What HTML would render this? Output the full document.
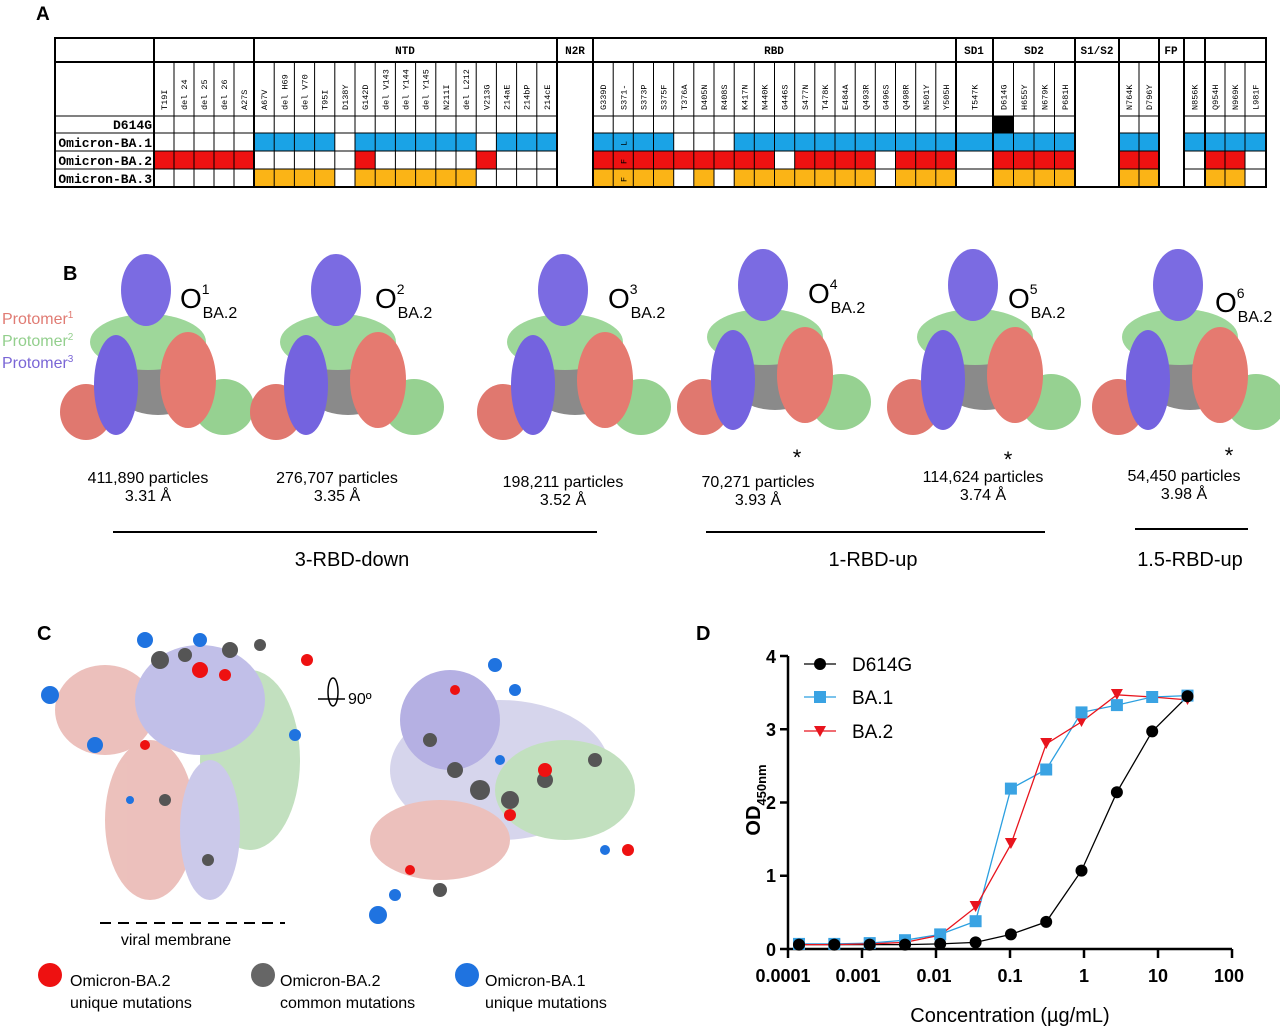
<!DOCTYPE html>
<html><head><meta charset="utf-8"><style>
body{margin:0;background:#fff}
svg{display:block}
.m{font-family:"Liberation Mono",monospace}
.s{font-family:"Liberation Sans",sans-serif}
</style></head><body>
<svg width="1280" height="1028" viewBox="0 0 1280 1028" xmlns="http://www.w3.org/2000/svg">
<rect width="1280" height="1028" fill="#fff"/>
<text x="36" y="20" class="s" font-size="19" font-weight="bold">A</text>
<g>
<rect x="993" y="116" width="20.5" height="17" fill="#000"/>
<g fill="#1aa3e6">
<rect x="254" y="133" width="80.8" height="18"/><rect x="355" y="133" width="121.2" height="18"/><rect x="496.4" y="133" width="60.6" height="18"/>
<rect x="593" y="133" width="80.7" height="18"/><rect x="734.2" y="133" width="221.8" height="18"/><rect x="956" y="133" width="119" height="18"/>
<rect x="1119" y="133" width="40" height="18"/><rect x="1184" y="133" width="82" height="18"/>
</g>
<g fill="#ee1111">
<rect x="154" y="151" width="100" height="18"/><rect x="355" y="151" width="20.2" height="18"/><rect x="476.2" y="151" width="20.2" height="18"/>
<rect x="593" y="151" width="181.5" height="18"/><rect x="794.7" y="151" width="80.6" height="18"/><rect x="895.5" y="151" width="60.5" height="18"/>
<rect x="993" y="151" width="82" height="18"/><rect x="1119" y="151" width="40" height="18"/><rect x="1205" y="151" width="40" height="18"/>
</g>
<g fill="#fbb416">
<rect x="254" y="169" width="80.8" height="18"/><rect x="355" y="169" width="121.2" height="18"/>
<rect x="593" y="169" width="80.7" height="18"/><rect x="693.8" y="169" width="20.2" height="18"/><rect x="734.2" y="169" width="141.1" height="18"/><rect x="895.5" y="169" width="60.5" height="18"/>
<rect x="993" y="169" width="82" height="18"/><rect x="1119" y="169" width="40" height="18"/><rect x="1205" y="169" width="40" height="18"/>
</g>
</g>
<g stroke="#000" stroke-width="1" fill="none">
<path d="M55 116H557M593 116H1075M1119 116H1159M1184 116H1266
M55 133H557M593 133H1075M1119 133H1159M1184 133H1266
M55 151H557M593 151H1075M1119 151H1159M1184 151H1266
M55 169H557M593 169H1075M1119 169H1159M1184 169H1266"/>
<path d="M174 62V187M194 62V187M214 62V187M234 62V187
M274.2 62V187M294.4 62V187M314.6 62V187M334.8 62V187M355 62V187M375.2 62V187M395.4 62V187M415.6 62V187M435.8 62V187M456 62V187M476.2 62V187M496.4 62V187M516.6 62V187M536.8 62V187
M613.2 62V187M633.3 62V187M653.5 62V187M673.7 62V187M693.8 62V187M714 62V187M734.2 62V187M754.3 62V187M774.5 62V187M794.7 62V187M814.8 62V187M835 62V187M855.2 62V187M875.3 62V187M895.5 62V187M915.7 62V187M935.8 62V187
M1013.5 62V187M1034 62V187M1054.5 62V187M1139 62V187M1225 62V187M1245 62V187"/>
</g>
<g stroke="#000" stroke-width="2" fill="none">
<rect x="55" y="38" width="1211" height="149"/>
<path d="M55 62H1266M154 38V187M254 38V187M557 38V187M593 38V187M956 38V187M993 38V187M1075 38V187M1119 38V187M1159 38V187M1184 38V187M1205 38V187"/>
</g>
<g class="m" font-size="11" font-weight="bold" text-anchor="middle">
<text x="405" y="54">NTD</text><text x="575" y="54">N2R</text><text x="774" y="54">RBD</text><text x="974" y="54">SD1</text><text x="1034" y="54">SD2</text><text x="1097" y="54">S1/S2</text><text x="1171" y="54">FP</text>
</g>
<g class="m" font-size="13" font-weight="bold" text-anchor="end">
<text x="152" y="129">D614G</text><text x="152" y="147">Omicron-BA.1</text><text x="152" y="165">Omicron-BA.2</text><text x="152" y="183">Omicron-BA.3</text>
</g>
<g class="m" font-size="8.5">
<text transform="translate(167,110) rotate(-90)">T19I</text>
<text transform="translate(187,110) rotate(-90)">del 24</text>
<text transform="translate(207,110) rotate(-90)">del 25</text>
<text transform="translate(227,110) rotate(-90)">del 26</text>
<text transform="translate(247,110) rotate(-90)">A27S</text>
<text transform="translate(267,110) rotate(-90)">A67V</text>
<text transform="translate(287.3,110) rotate(-90)">del H69</text>
<text transform="translate(307.5,110) rotate(-90)">del V70</text>
<text transform="translate(327.7,110) rotate(-90)">T95I</text>
<text transform="translate(347.9,110) rotate(-90)">D138Y</text>
<text transform="translate(368.1,110) rotate(-90)">G142D</text>
<text transform="translate(388.3,110) rotate(-90)">del V143</text>
<text transform="translate(408.5,110) rotate(-90)">del Y144</text>
<text transform="translate(428.7,110) rotate(-90)">del Y145</text>
<text transform="translate(448.9,110) rotate(-90)">N211I</text>
<text transform="translate(469.1,110) rotate(-90)">del L212</text>
<text transform="translate(489.3,110) rotate(-90)">V213G</text>
<text transform="translate(509.5,110) rotate(-90)">214aE</text>
<text transform="translate(529.7,110) rotate(-90)">214bP</text>
<text transform="translate(549.9,110) rotate(-90)">214cE</text>
<text transform="translate(606.1,110) rotate(-90)">G339D</text>
<text transform="translate(626.3,110) rotate(-90)">S371-</text>
<text transform="translate(646.4,110) rotate(-90)">S373P</text>
<text transform="translate(666.6,110) rotate(-90)">S375F</text>
<text transform="translate(686.8,110) rotate(-90)">T376A</text>
<text transform="translate(706.9,110) rotate(-90)">D405N</text>
<text transform="translate(727.1,110) rotate(-90)">R408S</text>
<text transform="translate(747.3,110) rotate(-90)">K417N</text>
<text transform="translate(767.4,110) rotate(-90)">N440K</text>
<text transform="translate(787.6,110) rotate(-90)">G446S</text>
<text transform="translate(807.8,110) rotate(-90)">S477N</text>
<text transform="translate(827.9,110) rotate(-90)">T478K</text>
<text transform="translate(848.1,110) rotate(-90)">E484A</text>
<text transform="translate(868.3,110) rotate(-90)">Q493R</text>
<text transform="translate(888.4,110) rotate(-90)">G496S</text>
<text transform="translate(908.6,110) rotate(-90)">Q498R</text>
<text transform="translate(928.8,110) rotate(-90)">N501Y</text>
<text transform="translate(948.9,110) rotate(-90)">Y505H</text>
<text transform="translate(977.5,110) rotate(-90)">T547K</text>
<text transform="translate(1006.3,110) rotate(-90)">D614G</text>
<text transform="translate(1026.8,110) rotate(-90)">H655Y</text>
<text transform="translate(1047.3,110) rotate(-90)">N679K</text>
<text transform="translate(1067.8,110) rotate(-90)">P681H</text>
<text transform="translate(1132,110) rotate(-90)">N764K</text>
<text transform="translate(1152,110) rotate(-90)">D796Y</text>
<text transform="translate(1197.5,110) rotate(-90)">N856K</text>
<text transform="translate(1218,110) rotate(-90)">Q954H</text>
<text transform="translate(1238,110) rotate(-90)">N969K</text>
<text transform="translate(1258.5,110) rotate(-90)">L981F</text>
<text transform="translate(626.3,146) rotate(-90)">L</text>
<text transform="translate(626.3,164) rotate(-90)">F</text>
<text transform="translate(626.3,182) rotate(-90)">F</text>
</g>

<text x="63" y="280" class="s" font-size="20" font-weight="bold">B</text>
<g class="s" font-size="16">
<text x="2" y="324" fill="#e07b73">Protomer<tspan font-size="10" dy="-6">1</tspan></text>
<text x="2" y="346" fill="#93cf8d">Protomer<tspan font-size="10" dy="-6">2</tspan></text>
<text x="2" y="368" fill="#7a66d6">Protomer<tspan font-size="10" dy="-6">3</tspan></text>
</g>
<defs>
<g id="map">
<ellipse cx="10" cy="20" rx="55" ry="45" fill="#8a8a8a"/>
<ellipse cx="-62" cy="62" rx="26" ry="28" fill="#e0786f"/>
<ellipse cx="76" cy="57" rx="30" ry="28" fill="#96d191"/>
<ellipse cx="0" cy="-8" rx="58" ry="28" fill="#9ed79a"/>
<ellipse cx="-32" cy="35" rx="22" ry="50" fill="#7463df"/>
<ellipse cx="40" cy="30" rx="28" ry="48" fill="#e57a70"/>
<ellipse cx="-2" cy="-60" rx="25" ry="36" fill="#7b6be2"/>
</g>
</defs>
<use href="#map" x="148" y="350"/>
<use href="#map" x="338" y="350"/>
<use href="#map" x="565" y="350"/>
<use href="#map" x="765" y="345"/>
<use href="#map" x="975" y="345"/>
<use href="#map" x="1180" y="345"/>
<g class="s" fill="#000">
<text x="180" y="308" font-size="28">O<tspan font-size="14" dy="-14">1</tspan><tspan font-size="16" dx="-7" dy="24">BA.2</tspan></text>
<text x="375" y="308" font-size="28">O<tspan font-size="14" dy="-14">2</tspan><tspan font-size="16" dx="-7" dy="24">BA.2</tspan></text>
<text x="608" y="308" font-size="28">O<tspan font-size="14" dy="-14">3</tspan><tspan font-size="16" dx="-7" dy="24">BA.2</tspan></text>
<text x="808" y="303" font-size="28">O<tspan font-size="14" dy="-14">4</tspan><tspan font-size="16" dx="-7" dy="24">BA.2</tspan></text>
<text x="1008" y="308" font-size="28">O<tspan font-size="14" dy="-14">5</tspan><tspan font-size="16" dx="-7" dy="24">BA.2</tspan></text>
<text x="1215" y="312" font-size="28">O<tspan font-size="14" dy="-14">6</tspan><tspan font-size="16" dx="-7" dy="24">BA.2</tspan></text>
</g>
<g class="s" font-size="16" text-anchor="middle">
<text x="148" y="483">411,890 particles</text><text x="148" y="501">3.31 Å</text>
<text x="337" y="483">276,707 particles</text><text x="337" y="501">3.35 Å</text>
<text x="563" y="487">198,211 particles</text><text x="563" y="505">3.52 Å</text>
<text x="758" y="487">70,271 particles</text><text x="758" y="505">3.93 Å</text>
<text x="983" y="482">114,624 particles</text><text x="983" y="500">3.74 Å</text>
<text x="1184" y="481">54,450 particles</text><text x="1184" y="499">3.98 Å</text>
<text x="797" y="465" font-size="22">*</text><text x="1008" y="467" font-size="22">*</text><text x="1229" y="463" font-size="22">*</text>
</g>
<g stroke="#000" stroke-width="2"><path d="M113 532H597M706 532H1045M1135 529H1248"/></g>
<g class="s" font-size="20" text-anchor="middle">
<text x="352" y="566">3-RBD-down</text><text x="873" y="566">1-RBD-up</text><text x="1190" y="566">1.5-RBD-up</text>
</g>

<text x="37" y="640" class="s" font-size="20" font-weight="bold">C</text>
<g opacity="0.7">
<ellipse cx="105" cy="710" rx="50" ry="45" fill="#e4a6a0"/>
<ellipse cx="150" cy="820" rx="45" ry="80" fill="#e4a6a0"/>
<ellipse cx="250" cy="760" rx="50" ry="90" fill="#a9d4a4"/>
<ellipse cx="200" cy="700" rx="65" ry="55" fill="#a8a4df"/>
<ellipse cx="210" cy="830" rx="30" ry="70" fill="#b6b3e2"/>
<ellipse cx="500" cy="770" rx="110" ry="70" fill="#c6c4e4"/>
<ellipse cx="450" cy="720" rx="50" ry="50" fill="#9690d8"/>
<ellipse cx="565" cy="790" rx="70" ry="50" fill="#a9d4a4"/>
<ellipse cx="440" cy="840" rx="70" ry="40" fill="#e4a6a0"/>
</g>
<g fill="#555"><circle cx="230" cy="650" r="8"/><circle cx="160" cy="660" r="9"/><circle cx="260" cy="645" r="6"/><circle cx="185" cy="655" r="7"/><circle cx="165" cy="800" r="6"/><circle cx="208" cy="860" r="6"/>
<circle cx="480" cy="790" r="10"/><circle cx="510" cy="800" r="9"/><circle cx="455" cy="770" r="8"/><circle cx="545" cy="780" r="8"/><circle cx="595" cy="760" r="7"/><circle cx="440" cy="890" r="7"/><circle cx="430" cy="740" r="7"/></g>
<g fill="#ee1111"><circle cx="200" cy="670" r="8"/><circle cx="225" cy="675" r="6"/><circle cx="307" cy="660" r="6"/><circle cx="145" cy="745" r="5"/><circle cx="545" cy="770" r="7"/><circle cx="510" cy="815" r="6"/><circle cx="628" cy="850" r="6"/><circle cx="410" cy="870" r="5"/><circle cx="455" cy="690" r="5"/></g>
<g fill="#1f73e0"><circle cx="145" cy="640" r="8"/><circle cx="200" cy="640" r="7"/><circle cx="50" cy="695" r="9"/><circle cx="95" cy="745" r="8"/><circle cx="295" cy="735" r="6"/><circle cx="130" cy="800" r="4"/>
<circle cx="495" cy="665" r="7"/><circle cx="515" cy="690" r="6"/><circle cx="378" cy="915" r="9"/><circle cx="395" cy="895" r="6"/><circle cx="605" cy="850" r="5"/><circle cx="500" cy="760" r="5"/></g>
<path d="M100 923H285" stroke="#000" stroke-width="2" stroke-dasharray="11 7"/>
<text x="176" y="945" class="s" font-size="16" text-anchor="middle">viral membrane</text>
<ellipse cx="333" cy="692" rx="5" ry="14" fill="none" stroke="#000" stroke-width="1.5"/>
<path d="M318 699H345" stroke="#000" stroke-width="1.5"/>
<text x="348" y="704" class="s" font-size="16">90º</text>
<circle cx="50" cy="975" r="12" fill="#ee1111"/><circle cx="263" cy="975" r="12" fill="#666"/><circle cx="467" cy="975" r="12" fill="#1f73e0"/>
<g class="s" font-size="16">
<text x="70" y="986">Omicron-BA.2</text><text x="70" y="1008">unique mutations</text>
<text x="280" y="986">Omicron-BA.2</text><text x="280" y="1008">common mutations</text>
<text x="485" y="986">Omicron-BA.1</text><text x="485" y="1008">unique mutations</text>
</g>

<text x="696" y="640" class="s" font-size="20" font-weight="bold">D</text>
<g stroke="#000" stroke-width="2.5" fill="none">
<path d="M788 656V949H1232"/>
<path d="M780 656H788M780 729.3H788M780 802.5H788M780 875.8H788M780 949H788"/>
<path d="M788 949V958M862 949V958M936 949V958M1010 949V958M1084 949V958M1158 949V958M1232 949V958"/>
</g>
<g class="s" font-size="18" font-weight="bold">
<g text-anchor="end"><text x="776" y="663">4</text><text x="776" y="736">3</text><text x="776" y="809">2</text><text x="776" y="882">1</text><text x="776" y="956">0</text></g>
<g text-anchor="middle"><text x="783" y="982">0.0001</text><text x="858" y="982">0.001</text><text x="934" y="982">0.01</text><text x="1010" y="982">0.1</text><text x="1084" y="982">1</text><text x="1158" y="982">10</text><text x="1229" y="982">100</text></g>
<text transform="translate(760,800) rotate(-90)" text-anchor="middle" font-size="20">OD<tspan font-size="13" dy="6">450nm</tspan></text>
</g>
<text x="1010" y="1022" class="s" font-size="20" text-anchor="middle">Concentration (µg/mL)</text>
<polyline fill="none" stroke="#000" stroke-width="1.3" points="1187.5,696.3 1152.2,731.4 1116.9,792.2 1081.5,870.6 1046.2,921.9 1010.9,934.4 975.6,942.4 940.2,943.9 905,944.6 869.7,944.6 834.3,944.6 799,944.6"/>
<polyline fill="none" stroke="#2b9fe0" stroke-width="1.3" points="1187.5,695.6 1152.2,697 1116.9,705.1 1081.5,712.4 1046.2,769.5 1010.9,788.6 975.6,921.2 940.2,934.4 905,940.2 869.7,943.1 834.3,943.9 799,943.9"/>
<polyline fill="none" stroke="#e8141d" stroke-width="1.3" points="1187.5,699.9 1152.2,697 1116.9,694.8 1081.5,721.9 1046.2,743.9 1010.9,844.3 975.6,907.2 940.2,935.1 905,942.4 869.7,943.9 834.3,944.6 799,944.6"/>
<g fill="#e8141d">
<path d="M1181.5 694h12l-6 11z"/><path d="M1146.2 691h12l-6 11z"/><path d="M1110.9 689h12l-6 11z"/><path d="M1075.5 716h12l-6 11z"/><path d="M1040.2 738h12l-6 11z"/><path d="M1004.9 838h12l-6 11z"/><path d="M969.6 901h12l-6 11z"/><path d="M934.2 929h12l-6 11z"/><path d="M899 936h12l-6 11z"/><path d="M863.7 938h12l-6 11z"/><path d="M828.3 939h12l-6 11z"/><path d="M793 939h12l-6 11z"/>
</g>
<g fill="#3aa3e3">
<rect x="1181.5" y="689.6" width="12" height="12"/><rect x="1146.2" y="691" width="12" height="12"/><rect x="1110.9" y="699.1" width="12" height="12"/><rect x="1075.5" y="706.4" width="12" height="12"/><rect x="1040.2" y="763.5" width="12" height="12"/><rect x="1004.9" y="782.6" width="12" height="12"/><rect x="969.6" y="915.2" width="12" height="12"/><rect x="934.2" y="928.4" width="12" height="12"/><rect x="899" y="934.2" width="12" height="12"/><rect x="863.7" y="937.1" width="12" height="12"/><rect x="828.3" y="937.9" width="12" height="12"/><rect x="793" y="937.9" width="12" height="12"/>
</g>
<g fill="#000">
<circle cx="1187.5" cy="696.3" r="6"/><circle cx="1152.2" cy="731.4" r="6"/><circle cx="1116.9" cy="792.2" r="6"/><circle cx="1081.5" cy="870.6" r="6"/><circle cx="1046.2" cy="921.9" r="6"/><circle cx="1010.9" cy="934.4" r="6"/><circle cx="975.6" cy="942.4" r="6"/><circle cx="940.2" cy="943.9" r="6"/><circle cx="905" cy="944.6" r="6"/><circle cx="869.7" cy="944.6" r="6"/><circle cx="834.3" cy="944.6" r="6"/><circle cx="799" cy="944.6" r="6"/>
</g>
<path d="M804 664H836" stroke="#000" stroke-width="1.3"/><circle cx="820" cy="664" r="6"/>
<path d="M804 697H836" stroke="#2b9fe0" stroke-width="1.3"/><rect x="814" y="691" width="12" height="12" fill="#3aa3e3"/>
<path d="M804 731H836" stroke="#e8141d" stroke-width="1.3"/><path d="M814 726h12l-6 11z" fill="#e8141d"/>
<g class="s" font-size="19"><text x="852" y="671">D614G</text><text x="852" y="704">BA.1</text><text x="852" y="738">BA.2</text></g>
</svg>
</body></html>
